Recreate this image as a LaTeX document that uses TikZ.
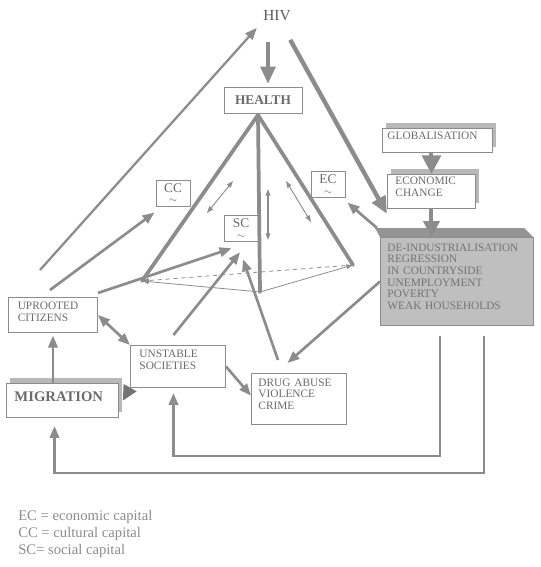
\documentclass[tikz,border=0pt]{standalone}
\usepackage{fontspec}
\setmainfont{Liberation Serif}
\usetikzlibrary{arrows.meta, calc, shadows}
\colorlet{ln}{black!45}
\colorlet{tx}{black!58}

\begin{document}
\begin{tikzpicture}[x=0.75pt, y=-0.75pt,
    capsfont/.style={font=\fontsize{8.5}{8.75}\selectfont},
    tbox/.style={draw=ln, line width=0.7pt, fill=white, text=tx, anchor=north west,
                 align=left, inner ysep=1pt, capsfont},
    cbox/.style={draw=ln, line width=0.7pt, fill=white, text=tx, inner sep=0pt},
    shd/.style={drop shadow={shadow xshift=3pt, shadow yshift=4.3pt, opacity=1, fill=black!28}},
    fatarrow/.style={draw=ln, line width=3pt, -{Triangle[length=13pt, width=11pt]}},
    midarrow/.style={draw=ln, line width=2pt, -{Triangle[length=9pt, width=7pt]}},
    twoway/.style={draw=ln, line width=2pt, {Triangle[length=9pt, width=7pt]}-{Triangle[length=9pt, width=7pt]}},
    ridge/.style={draw=ln, line width=2.8pt, line cap=round},
    baseln/.style={draw=ln, line width=0.6pt, -{Latex[length=5pt, width=4pt]}},
    twin/.style={draw=ln, line width=0.7pt, {Triangle[length=5pt, width=3.5pt]}-{Triangle[length=5pt, width=3.5pt]}},
    legend/.style={anchor=base west, inner sep=0pt, text=black!45, font=\fontsize{11}{13}\selectfont}]

    \useasboundingbox (0,0) rectangle (540,567);

    % --- HIV and HEALTH ---
    \node[text=black!65, font=\fontsize{11.5}{13}\selectfont] (hiv) at (277,16) {HIV};
    \node[cbox, minimum width=58.5pt, minimum height=19.5pt,
          font=\bfseries\fontsize{10}{12}\selectfont] (health) at (263,100) {HEALTH};

    % --- capital boxes ---
    \node[cbox, minimum width=25.5pt, minimum height=19.5pt, align=center,
          font=\fontsize{10}{10}\selectfont] (cc) at (173,193) {CC\\[-2pt]{\scriptsize$\sim$}};
    \node[cbox, minimum width=25.5pt, minimum height=20pt, align=center,
          font=\fontsize{10}{10}\selectfont] (sc) at (241,228.5) {SC\\[-2pt]{\scriptsize$\sim$}};
    \node[cbox, minimum width=25.5pt, minimum height=19pt, align=center,
          font=\fontsize{10}{10}\selectfont] (ec) at (328,184.5) {EC\\[-2pt]{\scriptsize$\sim$}};

    % --- right column ---
    \node[tbox, shd, inner xsep=3.75pt, text width=75pt, text height=7.25pt, text depth=8.75pt]
        (glob) at (382,128) {GLOBALISATION};
    \node[tbox, shd, inner xsep=6pt, text width=54pt, text height=6.5pt, text depth=17pt]
        (econ) at (387,174) {ECONOMIC\\CHANGE};
    \fill[black!42] (375,228) -- (524,228) -- (533,237) -- (380,237) -- cycle;
    \node[tbox, fill=black!25, text=black!55, inner xsep=5.25pt, text width=104.25pt,
          text height=9.3pt, text depth=54.7pt] (deind) at (380,237)
        {DE-INDUSTRIALISATION\\REGRESSION\\IN COUNTRYSIDE\\UNEMPLOYMENT\\POVERTY\\WEAK HOUSEHOLDS};

    % --- left column ---
    \node[tbox, inner xsep=7pt, text width=52.75pt, text height=8pt, text depth=16.25pt]
        (uproot) at (8,297) {UPROOTED\\CITIZENS};
    \node[tbox, inner xsep=6.75pt, text width=57.75pt, text height=8pt, text depth=21.5pt]
        (unst) at (130,345) {UNSTABLE\\SOCIETIES};
    \node[tbox, shd, inner xsep=6pt, text width=72pt, text height=12.3pt, text depth=11.2pt,
          font=\bfseries\fontsize{11}{12}\selectfont] (mig) at (6,383) {MIGRATION};
    \node[tbox, inner xsep=5.25pt, text width=60.75pt, text height=8.5pt, text depth=27.75pt]
        (drug) at (251,373) {DRUG ABUSE\\VIOLENCE\\CRIME};

    % --- Pyramid of capitals under HEALTH ---
    \coordinate (top) at (258,115);
    \coordinate (pl) at (142,281);
    \coordinate (pr) at (353,265);
    \coordinate (pf) at (260,292);
    \draw[baseln, dashed] (pr) -- (pl);
    \draw[baseln] (pf) -- (pl);
    \draw[baseln] (pf) -- (pr);
    \draw[ridge] (top) -- (pl);
    \draw[ridge] (top) -- (pr);
    \draw[ridge] (top) -- (pf);
    \draw[twin] (207,213) -- (233,181);
    \draw[twin, line width=1pt] (268,189) -- (268,240);
    \draw[twin] (286,181) -- (311,222);

    % --- HIV arrows ---
    \coordinate (up1) at (40,270);
    \coordinate (up2) at (50,290);
    \draw[fatarrow, shorten <=12pt, shorten >=2pt] ([xshift=-6.75pt]hiv.south) -- ([xshift=3.75pt]health.north);
    \draw[fatarrow, line width=3.3pt, shorten <=12pt] (hiv) -- ([yshift=-3.75pt]econ.south west);
    \draw[midarrow, line width=1.7pt, shorten >=2pt] (up1) -- (hiv.south west);

    % --- right column arrows ---
    \draw[fatarrow, -{Triangle[length=14pt, width=14pt]}] (econ.north |- glob.south) -- (econ.north);
    \draw[fatarrow, -{Triangle[length=12pt, width=12pt]}] (econ.south) -- (econ.south |- deind.north);
    \draw[midarrow] ($(deind.north west)+(-3,-9)$) -- ([shift={(2,5)}]ec.south east);
    \draw[midarrow] (deind.west) -- ([shift={(-11.5,-10)}]drug.north);

    % --- arrows into the capitals ---
    \draw[midarrow] (up2) -- ([shift={(-1,6)}]cc.south west);
    \draw[midarrow] ([yshift=3pt]uproot.north east) -- ([shift={(8,6)}]sc.south west);
    \draw[midarrow] ([shift={(-4.5,-10)}]unst.north) -- ([shift={(-1,10)}]sc.south);
    \draw[midarrow] ([shift={(-21,-13)}]drug.north) -- ([shift={(2,17)}]sc.south);

    % --- left column arrows ---
    \draw[twoway] (uproot.east) -- (unst.north west);
    \draw[midarrow, shorten >=2pt] (mig.north -| uproot.south) -- (uproot.south);
    \draw[midarrow] (unst.east) -- ([yshift=2.5pt]drug.west);
    \draw[draw=black!55, line width=1pt, -{Triangle[length=11pt, width=11pt]}, fill=black!55]
        (unst.south west) -- ([xshift=3pt]mig.east);

    % --- feedback lines from the crisis box ---
    \draw[midarrow] ($(deind.south west)+(60,10)$) -- ++(0,120)
        -| ([shift={(-4.5,5)}]unst.south);
    \draw[midarrow] ($(deind.south west)+(104,10)$) -- ++(0,137)
        -| ([shift={(-8,8)}]mig.south);

    % --- Legend ---
    \node[legend] (lec) at (18,520) {EC = economic capital};
    \node[legend] (lcc) at (18,537.5) {CC = cultural capital};
    \node[legend] (lsc) at (18,554) {SC= social capital};
\end{tikzpicture}
\end{document}
